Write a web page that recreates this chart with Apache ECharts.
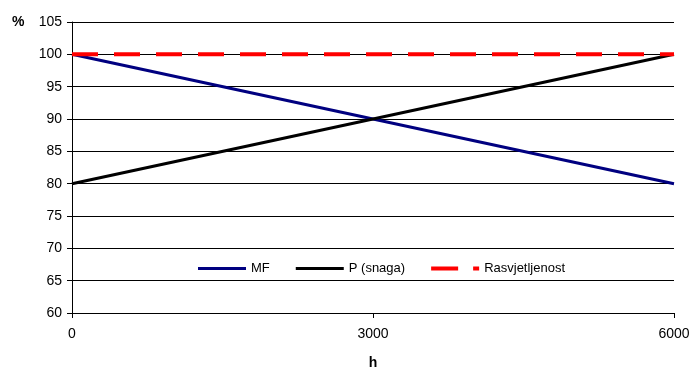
<!DOCTYPE html>
<html><head><meta charset="utf-8">
<script src="https://cdn.jsdelivr.net/npm/echarts@6/dist/echarts.min.js"></script>
<style>html,body{margin:0;padding:0;background:#fff}#c{width:691px;height:369px}</style>
</head><body><div id="c"></div>
<script>
const hours = [0, 6000];
const mfValues = [100, 80];
const pValues = [80, 100];
const rasValues = [100, 100];
const xTicks = [0, 3000, 6000];
const yTicks = [60, 65, 70, 75, 80, 85, 90, 95, 100, 105];

const pair = (xs, ys) => xs.map((x, i) => [x, ys[i]]);
const font = 'Liberation Sans, Arial, sans-serif';
const chart = echarts.init(document.getElementById('c'));
chart.setOption({
  animation: false,
  grid: {left: 72, right: 17, top: 22, bottom: 56, outerBoundsMode: 'none', containLabel: false},
  legend: {
    left: 193, top: 257, itemWidth: 48, itemHeight: 4, itemGap: 26,
    textStyle: {fontFamily: font, fontSize: 13, color: '#000'},
    data: [
      {name: 'MF', icon: 'path://M0,0H48V3H0Z'},
      {name: 'P (snaga)', icon: 'path://M0,0H48V3H0Z'},
      {name: 'Rasvjetljenost', icon: 'path://M0,0H27V4H0ZM42,0H48V4H42Z'}
    ]
  },
  xAxis: {
    type: 'value', min: xTicks[0], max: xTicks[xTicks.length-1], interval: 3000,
    name: 'h', nameLocation: 'middle', nameGap: 43,
    nameTextStyle: {fontFamily: font, fontSize: 14, fontWeight: 'bold', color: '#000'},
    axisLine: {show: true, lineStyle: {color: '#000', width: 1}},
    axisTick: {show: true, length: 5, lineStyle: {color: '#000'}},
    axisLabel: {fontFamily: font, fontSize: 14, color: '#000', margin: 14, formatter: v => String(v)},
    splitLine: {show: false}
  },
  yAxis: {
    type: 'value', min: yTicks[0], max: yTicks[yTicks.length-1], interval: 5,
    axisLine: {show: true, lineStyle: {color: '#000', width: 1}},
    axisTick: {show: true, length: 5, lineStyle: {color: '#000'}},
    axisLabel: {fontFamily: font, fontSize: 14, color: '#000', margin: 10},
    splitLine: {show: true, lineStyle: {color: '#000', width: 1}}
  },
  graphic: [{type: 'text', left: 12, top: 15, style: {text: '%', font: 'bold 14px ' + font, fill: '#000'}}],
  series: [
    {name: 'MF', type: 'line', data: pair(hours, mfValues), symbol: 'none', color: '#000080', lineStyle: {width: 3, color: '#000080'}},
    {name: 'P (snaga)', type: 'line', data: pair(hours, pValues), symbol: 'none', color: '#000', lineStyle: {width: 3, color: '#000'}},
    {name: 'Rasvjetljenost', type: 'line', data: pair(hours, rasValues), symbol: 'none', color: '#ff0000', z: 3, lineStyle: {width: 4, color: '#ff0000', type: [26, 16]}}
  ]
});
</script></body></html>
